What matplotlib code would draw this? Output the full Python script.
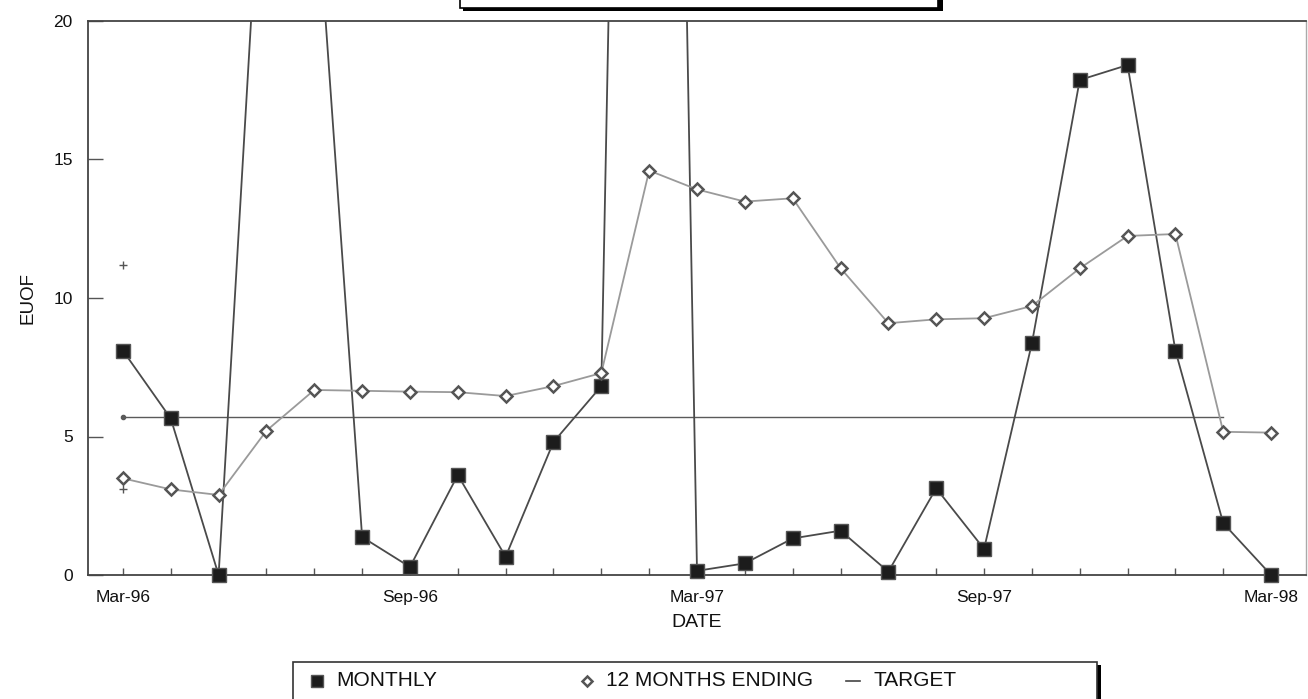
import matplotlib
matplotlib.use("Agg")
import matplotlib.pyplot as plt
from matplotlib.lines import Line2D
from matplotlib.patches import Rectangle
from matplotlib.transforms import IdentityTransform

plt.rcParams['font.family'] = ['Liberation Sans', 'DejaVu Sans']

# ---- data -------------------------------------------------------------
months = ["Mar-96", "Apr-96", "May-96", "Jun-96", "Jul-96", "Aug-96", "Sep-96",
          "Oct-96", "Nov-96", "Dec-96", "Jan-97", "Feb-97", "Mar-97", "Apr-97",
          "May-97", "Jun-97", "Jul-97", "Aug-97", "Sep-97", "Oct-97", "Nov-97",
          "Dec-97", "Jan-98", "Feb-98", "Mar-98"]
monthly = [8.1, 5.65, 0.0, 29.5, 25.8, 1.37, 0.29, 3.61, 0.66, 4.8, 6.82, 95.0,
           0.15, 0.42, 1.32, 1.6, 0.12, 3.13, 0.94, 8.36, 17.87, 18.41, 8.1,
           1.87, 0.0]
twelve_month = [3.49, 3.09, 2.89, 5.21, 6.68, 6.65, 6.62, 6.6, 6.46, 6.82, 7.29,
                14.6, 13.92, 13.48, 13.6, 11.08, 9.09, 9.23, 9.27, 9.71, 11.07,
                12.24, 12.31, 5.17, 5.14]
target = 5.7
target_span = ("Mar-96", "Feb-98")
plus_marks = [11.2, 3.1]          # stray "+" points plotted at Mar-96
labeled_months = ["Mar-96", "Sep-96", "Mar-97", "Sep-97", "Mar-98"]
y_ticks = [0, 5, 10, 15, 20]
y_max = 20

# ---- figure -----------------------------------------------------------
W, H = 1308, 699
fig = plt.figure(figsize=(W / 100, H / 100), dpi=100)
fig.patch.set_facecolor("white")

ax_l, ax_r, ax_t, ax_b = 88, 1306, 21, 575
ax = fig.add_axes([ax_l / W, (H - ax_b) / H, (ax_r - ax_l) / W, (ax_b - ax_t) / H])

x = list(range(len(months)))
pos = {m: i for i, m in enumerate(months)}

# connecting lines are clipped at the frame, markers on the frame stay whole
ax.plot(x, monthly, color="#4a4a4a", lw=1.3, zorder=3)
ax.plot(x, twelve_month, color="#9a9a9a", lw=1.3, zorder=4)

vis = [i for i in x if monthly[i] <= y_max]
line_monthly, = ax.plot(vis, [monthly[i] for i in vis], linestyle="none",
                        marker="s", markersize=9.5, markerfacecolor="#1c1c1c",
                        markeredgecolor="#555555", markeredgewidth=1.0,
                        clip_on=False, zorder=5)
line_12m, = ax.plot(x, twelve_month, linestyle="none", marker="D",
                    markersize=6.2, markerfacecolor="white",
                    markeredgecolor="#555555", markeredgewidth=1.8,
                    clip_on=False, zorder=6)
t0, t1 = pos[target_span[0]], pos[target_span[1]]
line_target, = ax.plot([t0, t1], [target, target], color="#5a5a5a", lw=1.0,
                       marker="o", markersize=3, markevery=[0], zorder=2)
ax.plot([0] * len(plus_marks), plus_marks, linestyle="none", marker="+",
        markersize=6, color="#555555", markeredgewidth=1.0)

ax.set_xlim(-0.73, 24.73)
ax.set_ylim(0, y_max)

ax.set_xticks(x)
ax.set_xticklabels([m if m in labeled_months else "" for m in months])
ax.set_yticks(y_ticks)
ax.set_yticklabels([str(v) for v in y_ticks])
ax.tick_params(axis="x", direction="in", length=5, width=1.0, color="#555555",
               pad=11, labelsize=12.5, labelcolor="#111111")
ax.tick_params(axis="y", direction="in", length=11, width=1.0, color="#555555",
               pad=11, labelsize=12.5, labelcolor="#111111")

for side, sp in ax.spines.items():
    sp.set_color("#444444")
    sp.set_linewidth(1.3)
ax.spines["right"].set_color("#aaaaaa")
ax.spines["right"].set_linewidth(1.0)

ax.set_xlabel("DATE", fontsize=14, color="#111111")
ax.xaxis.set_label_coords(0.5, -0.07)
ax.set_ylabel("EUOF", fontsize=13.5, color="#111111")
ax.yaxis.set_label_coords(-0.042, 0.5)

ident = IdentityTransform()


def px(xp, yp):
    """Convert top-left pixel coordinates into display coordinates."""
    return xp, H - yp


# ---- title frame (cut off at the top edge) -----------------------------
x0, y0 = px(460, 8)
fig.patches.append(Rectangle((x0 + 3, y0 - 3), 480, 40, transform=ident,
                             facecolor="black", edgecolor="black", lw=0, zorder=1))
fig.patches.append(Rectangle((x0, y0), 478, 40, transform=ident,
                             facecolor="white", edgecolor="black", lw=1.2, zorder=2))

# ---- legend frame (cut off at the bottom edge) -------------------------
lx0, ly0 = px(293, 700)
fig.patches.append(Rectangle((lx0 + 3, ly0 - 3), 805, 38, transform=ident,
                             facecolor="black", edgecolor="black", lw=0, zorder=1))
fig.patches.append(Rectangle((lx0, ly0), 804, 38, transform=ident,
                             facecolor="white", edgecolor="#333333", lw=1.2, zorder=2))

ly = 681
entries = [
    (line_monthly, 317, 336, "MONTHLY"),
    (line_12m, 587, 606, "12 MONTHS ENDING"),
    (line_target, 853, 873, "TARGET"),
]
for handle, hx, tx, label in entries:
    hx_d, hy_d = px(hx, ly)
    if handle is line_target:
        fig.add_artist(Line2D([hx_d - 7, hx_d + 7], [hy_d, hy_d], transform=ident,
                              color="#444444", lw=1.2, zorder=3))
    else:
        fig.add_artist(Line2D([hx_d], [hy_d], transform=ident, linestyle="none",
                              marker=handle.get_marker(),
                              markersize=handle.get_markersize() * 0.85,
                              markerfacecolor=handle.get_markerfacecolor(),
                              markeredgecolor=handle.get_markeredgecolor(),
                              markeredgewidth=handle.get_markeredgewidth(),
                              zorder=3))
    fig.text(tx / W, 1 - ly / H, label, fontsize=15, ha="left", va="center",
             color="#111111", zorder=3)

fig.savefig("out.png", dpi=100, facecolor="white")
